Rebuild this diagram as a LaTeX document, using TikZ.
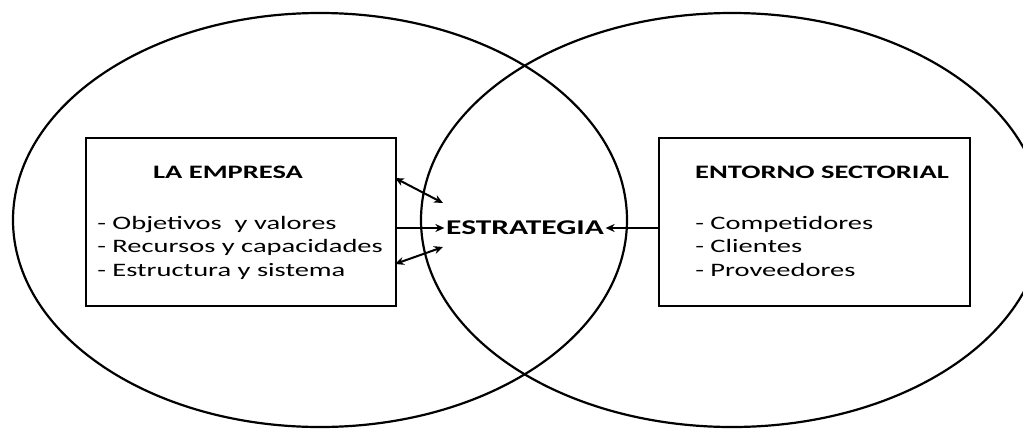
\documentclass[tikz,border=0pt]{standalone}
\usepackage{fontspec}
\setmainfont{Carlito}
\usetikzlibrary{arrows.meta}
\begin{document}
\begin{tikzpicture}[x=1pt,y=-1pt,
  ring/.style={draw,line width=2.2pt},
  boxs/.style={draw,line width=2.4pt},
  conn/.style={line width=2pt,-{Stealth[length=9pt,width=8pt]}},
  dconn/.style={line width=2pt,{Stealth[length=9pt,width=8pt]}-{Stealth[length=9pt,width=8pt]}},
  ttl/.style={font=\fontsize{19}{23}\selectfont\bfseries,xscale=1.5,transform shape},
  itm/.style={font=\fontsize{19}{23.5}\selectfont,align=left,anchor=north west,inner sep=0pt,xscale=1.5,transform shape}]
\useasboundingbox (0,0) rectangle (1023,429);
\clip (0,0) rectangle (1023,429);
\draw[ring] (320,220) ellipse [x radius=307, y radius=207];
\draw[ring] (732,220) ellipse [x radius=311, y radius=207];
\node[boxs,minimum width=310,minimum height=168,anchor=north west,inner sep=0] (emp) at (85,137) {};
\node[boxs,minimum width=311,minimum height=168,anchor=north west,inner sep=0] (ent) at (658,137) {};
\node[ttl] (empt) at (228,172) {LA EMPRESA};
\node[ttl] (entt) at (822,172) {ENTORNO SECTORIAL};
\node[itm] (empi) at (97,216) {- Objetivos \ y valores\\- Recursos y capacidades\\- Estructura y sistema};
\node[itm] (enti) at (695,216) {- Competidores\\- Clientes\\- Proveedores};
\node[font=\fontsize{21}{25}\selectfont\bfseries,inner sep=1pt,xscale=1.5,transform shape] (est) at (525,228) {ESTRATEGIA};
\coordinate (a1s) at (395,178);
\coordinate (a1e) at (443,203);
\coordinate (a2s) at (395,228);
\coordinate (a3s) at (395,264);
\coordinate (a3e) at (443,247);
\coordinate (a4s) at (658,228);
\draw[dconn] (a1s) -- (a1e);
\draw[conn] (a2s) -- (est.west);
\draw[dconn] (a3s) -- (a3e);
\draw[conn] (a4s) -- (est.east);
\end{tikzpicture}
\end{document}
